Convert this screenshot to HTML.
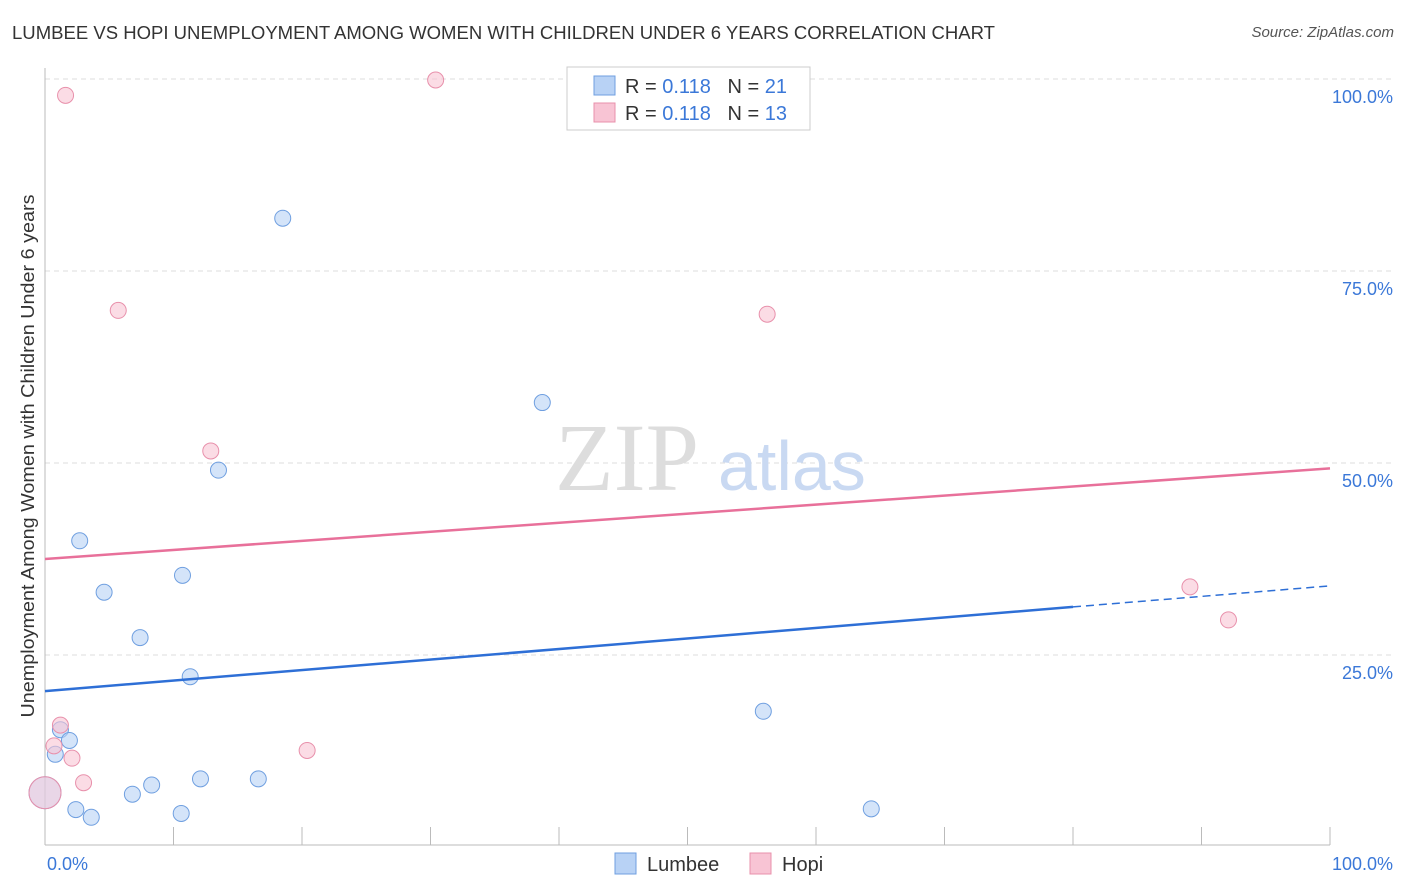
<!DOCTYPE html>
<html><head><meta charset="utf-8"><style>
body{margin:0;background:#fff;width:1406px;height:892px;overflow:hidden;font-family:"Liberation Sans",sans-serif;}
#s{position:absolute;right:12px;top:24px;font-size:15px;color:#555;font-style:italic;}
svg{position:absolute;left:0;top:0;}
</style></head><body>
<div id="s">Source: ZipAtlas.com</div>
<svg id="c" width="1406" height="892"></svg>
<script>
const lumbeeX=[18.5,38.7,13.5,2.7,4.6,10.7,7.4,11.3,55.9,1.2,1.9,0.8,0,6.8,8.3,12.1,16.6,2.4,3.6,10.6,64.3];
const lumbeeY=[82,58,49.2,40,33.3,35.5,27.4,22.3,17.8,15.4,14,12.2,7.2,7,8.2,9,9,5,4,4.5,5.1];
const hopiX=[1.6,30.4,5.7,56.2,12.9,89.1,92.1,1.2,0.7,2.1,3,20.4,0];
const hopiY=[98,100,70,69.5,51.7,34,29.7,16,13.3,11.7,8.5,12.7,7.2];
const yTicks=[25,50,75,100];
const yTickLabels=["25.0%","50.0%","75.0%","100.0%"];
const lumbeeLine=[20.3,34];
const hopiLine=[37.5,49.3];
const L=45,R=1330,B=847,T=79;
const xs=v=>L+v/100*(R-L), ys=v=>B-v/100*(B-T);
const svg=document.getElementById('c');const NS='http://www.w3.org/2000/svg';
function mk(tag,a,p){const e=document.createElementNS(NS,tag);for(const k in a)e.setAttribute(k,a[k]);(p||svg).appendChild(e);return e;}
const tt=mk('text',{x:12,y:39,'font-size':18,fill:'#333',textLength:983,lengthAdjust:'spacingAndGlyphs'});tt.textContent='LUMBEE VS HOPI UNEMPLOYMENT AMONG WOMEN WITH CHILDREN UNDER 6 YEARS CORRELATION CHART';


yTicks.forEach((v,i)=>{
 const g=mk('line',{x1:L,x2:1395,y1:ys(v),y2:ys(v),stroke:'#ddd','stroke-dasharray':'5,4'});
 
 
 const t=mk('text',{x:1393,y:ys(v)+24,'text-anchor':'end','font-size':18,fill:'#3b78d8'});t.textContent=yTickLabels[i];
 
 
});
const ax=mk('line',{x1:L,x2:L,y1:68,y2:845,stroke:'#bbb'});


const bx=mk('line',{x1:L,x2:1330,y1:845,y2:845,stroke:'#bbb'});


for(let i=0;i<=10;i++){const x=L+i*(R-L)/10;const tk=mk('line',{x1:x,x2:x,y1:827,y2:845,stroke:'#bbb'});
 
 }
[[L+2,'start','0.0%'],[1393,'end','100.0%']].forEach(d=>{const t=mk('text',{x:d[0],y:870,'text-anchor':d[1],'font-size':18,fill:'#3b78d8'});t.textContent=d[2];
 
 });
const yt=mk('text',{x:34,y:456,transform:'rotate(-90 34 456)','text-anchor':'middle','font-size':18,fill:'#333',textLength:523,lengthAdjust:'spacingAndGlyphs'});yt.textContent='Unemployment Among Women with Children Under 6 years';


const w1=mk('text',{x:555,y:490,'font-size':96,fill:'#ddd','font-family':'Liberation Serif'});w1.textContent='ZIP';


const w2=mk('text',{x:718,y:490,'font-size':70,fill:'#c9d9f2'});w2.textContent='atlas';


function pts(X,Y,fill,stroke,name){X.forEach((x,i)=>{const big=x===0;const c=mk('circle',{cx:xs(x),cy:ys(Y[i])+1,r:big?16:8,fill:fill,stroke:stroke,'stroke-width':1,'fill-opacity':big?0.5:0.6});
 
 });}
pts(lumbeeX,lumbeeY,'#b8d2f5','#6f9fe0','lumbee');
pts(hopiX,hopiY,'#f8c4d4','#e890ab','hopi');
const xe=80;
const l1=mk('line',{x1:xs(0),y1:ys(lumbeeLine[0]),x2:xs(xe),y2:ys(lumbeeLine[0]+(lumbeeLine[1]-lumbeeLine[0])*xe/100),stroke:'#2e6fd6','stroke-width':2.5});


const l1d=mk('line',{x1:xs(xe),y1:ys(lumbeeLine[0]+(lumbeeLine[1]-lumbeeLine[0])*xe/100),x2:xs(100),y2:ys(lumbeeLine[1]),stroke:'#2e6fd6','stroke-width':1.5,'stroke-dasharray':'8,5'});


const l2=mk('line',{x1:xs(0),y1:ys(hopiLine[0]),x2:xs(100),y2:ys(hopiLine[1]),stroke:'#e8709a','stroke-width':2.5});


const lg=mk('rect',{x:567,y:67,width:243,height:63,fill:'#fff',stroke:'#ccc'});


[[0,'#b8d2f5','#6f9fe0','21'],[1,'#f8c4d4','#e890ab','13']].forEach(d=>{const y=76+d[0]*27;
 const r=mk('rect',{x:594,y:y,width:21,height:19,fill:d[1],stroke:d[2]});
 
 
 const t=mk('text',{x:625,y:y+17,'font-size':20,fill:'#333'});
 t.innerHTML='R = <tspan fill="#3b78d8">0.118</tspan>&#160;&#160;&#160;N = <tspan fill="#3b78d8">'+d[3]+'</tspan>';
 
 });
[[615,'#b8d2f5','#6f9fe0','Lumbee'],[750,'#f8c4d4','#e890ab','Hopi']].forEach(d=>{
 const r=mk('rect',{x:d[0],y:853,width:21,height:21,fill:d[1],stroke:d[2]});
 
 
 const t=mk('text',{x:d[0]+32,y:871,'font-size':20,fill:'#333'});t.textContent=d[3];
 
 });
</script>
</body></html>
